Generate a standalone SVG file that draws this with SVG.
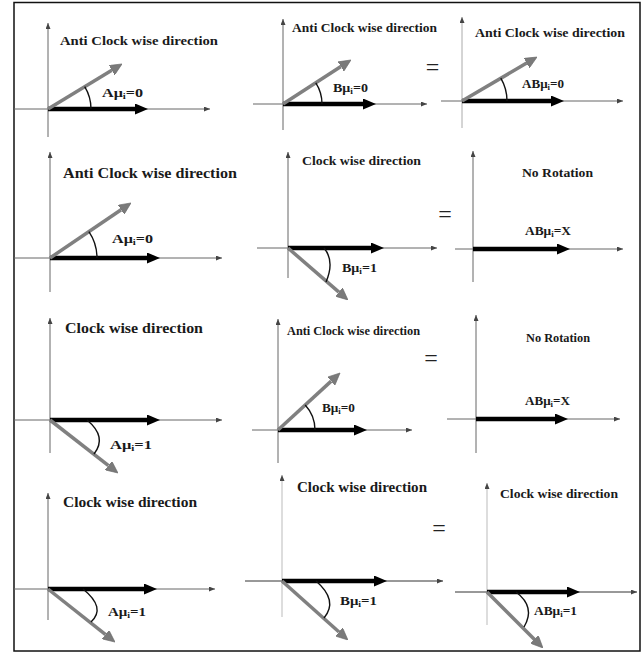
<svg xmlns="http://www.w3.org/2000/svg" width="644" height="653" viewBox="0 0 644 653">
<style>
  .frame{fill:none;stroke:#111;stroke-width:1.5}
  .axis{fill:none;stroke:#666;stroke-width:1;marker-end:url(#ax)}
  .blk{fill:none;stroke:#000;stroke-width:4.5;marker-end:url(#bh)}
  .gry{fill:none;stroke:#808080;stroke-width:3.5;marker-end:url(#gh)}
  .arc{fill:none;stroke:#111;stroke-width:1.4}
  .ttl{font-family:"Liberation Serif",serif;font-weight:bold;fill:#1a1a1a}
  .lbl{font-family:"Liberation Serif",serif;font-weight:bold;font-size:12px;fill:#1a1a1a}
  .sub{font-size:8px}
  .eq{font-family:"Liberation Serif",serif;font-size:24px;fill:#222;text-anchor:middle}
</style>
<defs>
  <marker id="ax" viewBox="0 0 6 5" refX="6" refY="2.5" markerWidth="6" markerHeight="5" markerUnits="userSpaceOnUse" orient="auto"><path d="M0,0 L6,2.5 L0,5 z" fill="#444"/></marker>
  <marker id="bh" viewBox="0 0 13 11" refX="0" refY="5.5" markerWidth="13" markerHeight="11" markerUnits="userSpaceOnUse" orient="auto"><path d="M0,0 L13,5.5 L0,11 z" fill="#000"/></marker>
  <marker id="gh" viewBox="0 0 12 11" refX="0" refY="5.5" markerWidth="12" markerHeight="11" markerUnits="userSpaceOnUse" orient="auto"><path d="M0,0 L12,5.5 L0,11 z" fill="#7a7a7a" stroke="#666" stroke-width="0.6"/></marker>
</defs>
<rect class="frame" x="14" y="2.5" width="626" height="648.5"/>

<g id="connectors">
  <!-- P1 -->
  <path class="axis" d="M48,137 L48,23"/>
  <path class="axis" d="M14,109 L210,109"/>
  <path class="blk" d="M48,109 L135,109"/>
  <path class="gry" d="M48,109 L111.8,70.2"/>
  <path class="arc" d="M84.7,86.6 A43,43 0 0 1 91,109"/>
  <!-- P2 -->
  <path class="axis" d="M283,130 L283,19"/>
  <path class="axis" d="M253,104 L427,104"/>
  <path class="blk" d="M283,104 L363,104"/>
  <path class="gry" d="M283,104 L340.9,66.5"/>
  <path class="arc" d="M315.8,82.8 A39,39 0 0 1 322,104"/>
  <!-- P3 -->
  <path class="axis" d="M462,128 L462,17" style="stroke:#aaa"/>
  <path class="axis" d="M441,101 L623,101"/>
  <path class="blk" d="M462,101 L551,101"/>
  <path class="gry" d="M462,101 L526.7,63.1"/>
  <path class="arc" d="M500.8,78.2 A45,45 0 0 1 507,101"/>
  <!-- P4 -->
  <path class="axis" d="M50,292 L50,152"/>
  <path class="axis" d="M14,258 L222,258"/>
  <path class="blk" d="M50,258 L147,258"/>
  <path class="gry" d="M50,258 L121.1,209.7"/>
  <path class="arc" d="M88.9,231.6 A47,47 0 0 1 97,258"/>
  <!-- P5 -->
  <path class="axis" d="M288,278 L288,152"/>
  <path class="axis" d="M257,248 L437,248"/>
  <path class="blk" d="M288,248 L371,248"/>
  <path class="gry" d="M288,248 L338.9,292.1"/>
  <path class="arc" d="M324,248 Q335,261 326,282"/>
  <!-- P6 -->
  <path class="axis" d="M473,282 L473,151"/>
  <path class="axis" d="M455,249 L623,249"/>
  <path class="blk" d="M473,249 L557,249"/>
  <!-- P7 -->
  <path class="axis" d="M50,453 L50,318"/>
  <path class="axis" d="M14,420 L222,420"/>
  <path class="blk" d="M50,420 L147,420"/>
  <path class="gry" d="M50,420 L108.5,465.6"/>
  <path class="arc" d="M87,420 Q107.5,437 94,454"/>
  <!-- P8 -->
  <path class="axis" d="M278,463 L278,319"/>
  <path class="axis" d="M252,430 L412,430"/>
  <path class="blk" d="M278,430 L354,430"/>
  <path class="gry" d="M278,430 L331.2,381.1"/>
  <path class="arc" d="M305.2,405 A37,37 0 0 1 315,430"/>
  <!-- P9 -->
  <path class="axis" d="M476,453 L476,315"/>
  <path class="axis" d="M447,419 L620,419"/>
  <path class="blk" d="M476,419 L555,419"/>
  <!-- P10 -->
  <path class="axis" d="M48,620 L48,493"/>
  <path class="axis" d="M14,589 L215,589"/>
  <path class="blk" d="M48,589 L144,589"/>
  <path class="gry" d="M48,589 L105.6,634.6"/>
  <path class="arc" d="M83,589 Q106.4,607.9 91,622"/>
  <!-- P11 -->
  <path class="axis" d="M282,617 L282,475" style="stroke:#bbb"/>
  <path class="axis" d="M245,581 L443,581" style="stroke:#333"/>
  <path class="blk" d="M282,581 L374,581"/>
  <path class="gry" d="M282,581 L339,632"/>
  <path class="arc" d="M316,581 Q338.6,600.5 324,618"/>
  <!-- P12 -->
  <path class="axis" d="M487,625 L487,483" style="stroke:#bbb"/>
  <path class="axis" d="M455,592 L637,592" style="stroke:#333"/>
  <path class="blk" d="M487,592 L567,592"/>
  <path class="gry" d="M487,592 L534.5,639.5"/>
  <path class="arc" d="M516,592 Q536,607 524,627"/>
</g>

<g id="p1">
  <text class="ttl" x="60" y="45" font-size="13.5" textLength="158" lengthAdjust="spacingAndGlyphs">Anti Clock wise direction</text>
  <text class="lbl" x="102" y="97" textLength="41" lengthAdjust="spacingAndGlyphs">Aμ<tspan class="sub" dy="2">i</tspan><tspan dy="-2">=0</tspan></text>
</g>
<g id="p2">
  <text class="ttl" x="292" y="32" font-size="12.5" textLength="145" lengthAdjust="spacingAndGlyphs">Anti Clock wise direction</text>
  <text class="lbl" x="333" y="92" textLength="35" lengthAdjust="spacingAndGlyphs">Bμ<tspan class="sub" dy="2">i</tspan><tspan dy="-2">=0</tspan></text>
</g>
<g id="eq1"><text class="eq" x="432.5" y="74.5">=</text></g>
<g id="p3">
  <text class="ttl" x="475" y="37" font-size="13" textLength="150" lengthAdjust="spacingAndGlyphs">Anti Clock wise direction</text>
  <text class="lbl" x="522" y="88" textLength="42" lengthAdjust="spacingAndGlyphs">ABμ<tspan class="sub" dy="2">i</tspan><tspan dy="-2">=0</tspan></text>
</g>
<g id="p4">
  <text class="ttl" x="63" y="178" font-size="15" textLength="174" lengthAdjust="spacingAndGlyphs">Anti Clock wise direction</text>
  <text class="lbl" x="112" y="243" textLength="41" lengthAdjust="spacingAndGlyphs">Aμ<tspan class="sub" dy="2">i</tspan><tspan dy="-2">=0</tspan></text>
</g>
<g id="p5">
  <text class="ttl" x="302" y="165" font-size="13" textLength="119" lengthAdjust="spacingAndGlyphs">Clock wise direction</text>
  <text class="lbl" x="342" y="272" textLength="35" lengthAdjust="spacingAndGlyphs">Bμ<tspan class="sub" dy="2">i</tspan><tspan dy="-2">=1</tspan></text>
</g>
<g id="eq2"><text class="eq" x="445" y="221.5">=</text></g>
<g id="p6">
  <text class="ttl" x="522" y="177" font-size="13" textLength="71" lengthAdjust="spacingAndGlyphs">No Rotation</text>
  <text class="lbl" x="525" y="235" textLength="46" lengthAdjust="spacingAndGlyphs">ABμ<tspan class="sub" dy="2">i</tspan><tspan dy="-2">=X</tspan></text>
</g>
<g id="p7">
  <text class="ttl" x="65" y="333" font-size="15" textLength="138" lengthAdjust="spacingAndGlyphs">Clock wise direction</text>
  <text class="lbl" x="110" y="449" textLength="42" lengthAdjust="spacingAndGlyphs">Aμ<tspan class="sub" dy="2">i</tspan><tspan dy="-2">=1</tspan></text>
</g>
<g id="p8">
  <text class="ttl" x="287" y="335" font-size="12.5" textLength="133" lengthAdjust="spacingAndGlyphs">Anti Clock wise direction</text>
  <text class="lbl" x="322" y="412" textLength="33" lengthAdjust="spacingAndGlyphs">Bμ<tspan class="sub" dy="2">i</tspan><tspan dy="-2">=0</tspan></text>
</g>
<g id="eq3"><text class="eq" x="431" y="366">=</text></g>
<g id="p9">
  <text class="ttl" x="526" y="342" font-size="12.5" textLength="64" lengthAdjust="spacingAndGlyphs">No Rotation</text>
  <text class="lbl" x="525" y="405" textLength="45" lengthAdjust="spacingAndGlyphs">ABμ<tspan class="sub" dy="2">i</tspan><tspan dy="-2">=X</tspan></text>
</g>
<g id="p10">
  <text class="ttl" x="63" y="507" font-size="14.5" textLength="134" lengthAdjust="spacingAndGlyphs">Clock wise direction</text>
  <text class="lbl" x="108" y="616" textLength="38" lengthAdjust="spacingAndGlyphs">Aμ<tspan class="sub" dy="2">i</tspan><tspan dy="-2">=1</tspan></text>
</g>
<g id="p11">
  <text class="ttl" x="297" y="492" font-size="14.5" textLength="130" lengthAdjust="spacingAndGlyphs">Clock wise direction</text>
  <text class="lbl" x="340" y="605" textLength="37" lengthAdjust="spacingAndGlyphs">Bμ<tspan class="sub" dy="2">i</tspan><tspan dy="-2">=1</tspan></text>
</g>
<g id="eq4"><text class="eq" x="439" y="536">=</text></g>
<g id="p12">
  <text class="ttl" x="500" y="498" font-size="13" textLength="118" lengthAdjust="spacingAndGlyphs">Clock wise direction</text>
  <text class="lbl" x="534" y="615" textLength="43" lengthAdjust="spacingAndGlyphs">ABμ<tspan class="sub" dy="2">i</tspan><tspan dy="-2">=1</tspan></text>
</g>
</svg>
